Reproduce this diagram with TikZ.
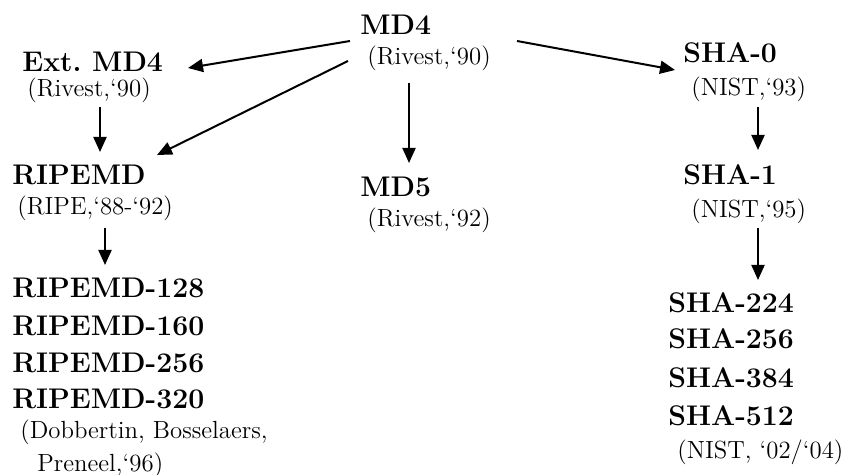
\documentclass[tikz,border=0pt]{standalone}
\usepackage{fontspec}
\usetikzlibrary{arrows.meta,calc}
\begin{document}
\begin{tikzpicture}[x=0.5pt,y=-0.5pt,
  title/.style={anchor=base west,inner sep=0pt,font=\fontsize{14.2}{16}\selectfont\bfseries},
  origin/.style={anchor=base west,inner sep=0pt,font=\fontsize{12.4}{15}\selectfont},
  link/.style={line width=1pt,-{Triangle[length=7.5pt,width=6.5pt]}}]
\useasboundingbox (0,0) rectangle (844,475);

% MD4 family: root
\node[title]  (md4)   at (360,35)  {MD4};
\node[origin] (md4y)  at (367,65)  {(Rivest,‘90)};

% left branch
\node[title]  (ext)   at (22,72)   {Ext.\ MD4};
\node[origin] (exty)  at (27,97)   {(Rivest,‘90)};
\node[title]  (ripe)  at (12,185)  {RIPEMD};
\node[origin] (ripey) at (17,215)  {(RIPE,‘88-‘92)};
\node[title]  (r128)  at (12,298)  {RIPEMD-128};
\node[title]  (r160)  at (12,335)  {RIPEMD-160};
\node[title]  (r256)  at (12,372)  {RIPEMD-256};
\node[title]  (r320)  at (12,408)  {RIPEMD-320};
\node[origin] (dob1)  at (20,438)  {(Dobbertin, Bosselaers,};
\node[origin] (dob2)  at (37,471)  {Preneel,‘96)};

% middle branch
\node[title]  (md5)   at (360,197) {MD5};
\node[origin] (md5y)  at (367,227) {(Rivest,‘92)};

% right branch
\node[title]  (sha0)  at (683,63)  {SHA-0};
\node[origin] (sha0y) at (691,96)  {(NIST,‘93)};
\node[title]  (sha1)  at (683,185) {SHA-1};
\node[origin] (sha1y) at (691,218) {(NIST,‘95)};
\node[title]  (s224)  at (668,312) {SHA-224};
\node[title]  (s256)  at (668,348) {SHA-256};
\node[title]  (s384)  at (668,387) {SHA-384};
\node[title]  (s512)  at (668,425) {SHA-512};
\node[origin] (nisty) at (677,458) {(NIST, ‘02/‘04)};

% derivation arrows
\draw[link] ($(md4.base west)+(-10,6)$)   -- ($(ext.base west)+(166,-4)$);
\draw[link] ($(md4.base west)+(-12,26)$)  -- ($(ripe.base west)+(145,-30)$);
\draw[link] ($(md4y.base west)+(42,18)$)  -- ($(md5.base west)+(49,-34)$);
\draw[link] ($(md4.base west)+(157,6)$)   -- ($(sha0.base west)+(-8,7)$);
\draw[link] ($(exty.base west)+(73,10)$)  -- ($(ripe.base west)+(88,-33)$);
\draw[link] ($(ripey.base west)+(88,13)$) -- ($(r128.base west)+(93,-33)$);
\draw[link] ($(sha0y.base west)+(67,11)$) -- ($(sha1.base west)+(75,-35)$);
\draw[link] ($(sha1y.base west)+(67,10)$) -- ($(s224.base west)+(90,-32)$);
\end{tikzpicture}
\end{document}
